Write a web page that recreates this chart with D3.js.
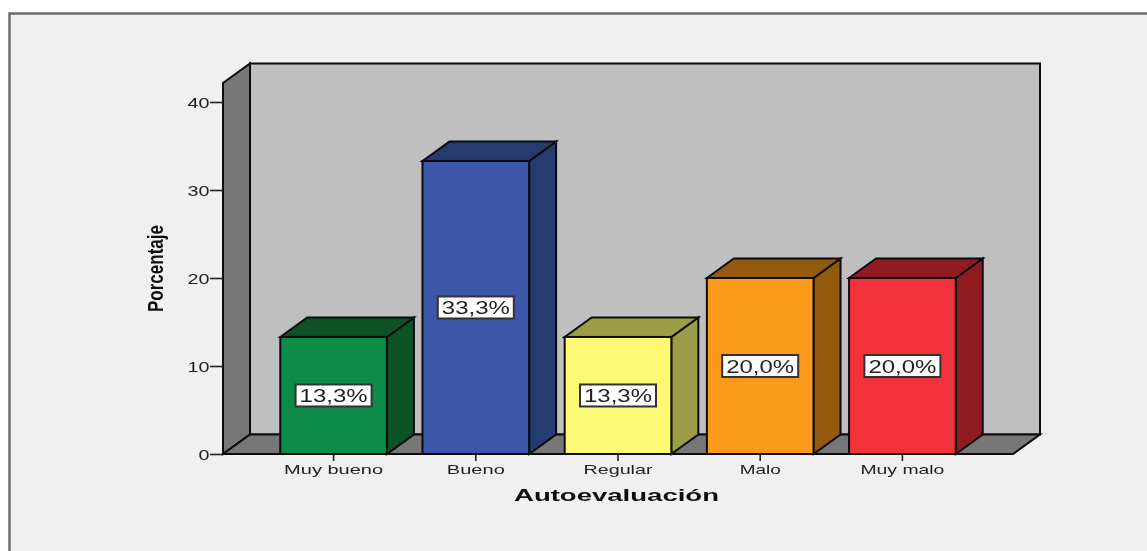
<!DOCTYPE html>
<html><head><meta charset="utf-8">
<script src="https://cdn.jsdelivr.net/npm/d3@7/dist/d3.min.js"></script>
<style>html,body{margin:0;padding:0;background:#fff}svg{display:block}text{font-family:"Liberation Sans",Arial,sans-serif}</style>
</head><body><svg id="c" width="1147" height="551"></svg>
<script>
const categories = ["Muy bueno","Bueno","Regular","Malo","Muy malo"];
const values = [13.3,33.3,13.3,20.0,20.0];
const valueLabels = ["13,3%","33,3%","13,3%","20,0%","20,0%"];
const yTicks = [0,10,20,30,40];
const frontColors = ["#108c48","#3e57a8","#fdf975","#fc9a1c","#f2333b"];
const topColors = ["#075227","#263a70","#9d9c46","#935a10","#901e22"];
const sideColors = ["#075227","#263a70","#9d9c46","#935a10","#901e22"];

const W=1147,H=551, dx=27, dy=-19.5;
const svg=d3.select("#c");
const defs=svg.append("defs");
defs.append("filter").attr("id","soft").attr("filterUnits","userSpaceOnUse")
  .attr("x",0).attr("y",0).attr("width",W).attr("height",H)
  .append("feGaussianBlur").attr("stdDeviation",0.55);
const root=svg.append("g").attr("filter","url(#soft)");

const y=d3.scaleLinear().domain([0,40]).range([454,102]);
const x=d3.scaleBand().domain(categories).range([262.5,973.5]).paddingInner(0.25).paddingOuter(0.125);
const xL=223,xR=1013,yB=y(0),yT=83;
const line=d3.line();
const stroke="#0a0a0a";
const sw=2;

// outer frame
root.append("rect").attr("x",9.5).attr("y",13.5).attr("width",W+20).attr("height",H+20)
  .attr("fill","#f0f0f0").attr("stroke","#6e6e6e").attr("stroke-width",2.5);

// back wall, side wall, floor
root.append("path").attr("d",line([[xL+dx,yT+dy],[xR+dx,yT+dy],[xR+dx,yB+dy],[xL+dx,yB+dy]])+"Z")
  .attr("fill","#bfbfbf").attr("stroke",stroke).attr("stroke-width",sw);
root.append("path").attr("d",line([[xL,yT],[xL+dx,yT+dy],[xL+dx,yB+dy],[xL,yB]])+"Z")
  .attr("fill","#777").attr("stroke",stroke).attr("stroke-width",sw);
root.append("path").attr("d",line([[xL,yB],[xL+dx,yB+dy],[xR+dx,yB+dy],[xR,yB]])+"Z")
  .attr("fill","#777").attr("stroke",stroke).attr("stroke-width",sw);

// y axis
const yAxis=root.append("g").attr("transform",`translate(${xL},0)`)
  .call(d3.axisLeft(y).tickValues(yTicks).tickSize(13).tickPadding(0).tickFormat(d3.format("d")));
yAxis.select(".domain").remove();
yAxis.selectAll("line").attr("stroke","#222").attr("stroke-width",1.6);
yAxis.selectAll("text").attr("fill","#222").attr("font-size",14).attr("x",-13.5).attr("dy","0.36em")
  .attr("textLength",d=>d===0?11:22).attr("lengthAdjust","spacingAndGlyphs");

// x axis
const xAxis=root.append("g").attr("transform",`translate(0,${yB})`)
  .call(d3.axisBottom(x).tickSize(7).tickPadding(2));
xAxis.select(".domain").remove();
xAxis.selectAll("line").attr("stroke","#222").attr("stroke-width",1.6);
const labelW={"Muy bueno":99,"Bueno":58,"Regular":69,"Malo":41,"Muy malo":84};
xAxis.selectAll("text").attr("fill","#222").attr("font-size",13.5).attr("y",10).attr("dy","0.71em")
  .attr("textLength",d=>labelW[d]).attr("lengthAdjust","spacingAndGlyphs");

// bars
const bars=root.selectAll("g.bar").data(categories.map((c,i)=>({c,i,v:values[i],l:valueLabels[i]}))).join("g").attr("class","bar");
bars.append("path").attr("fill",d=>sideColors[d.i]).attr("stroke",stroke).attr("stroke-width",sw)
  .attr("d",d=>{const r=x(d.c)+x.bandwidth(),t=y(d.v);return line([[r,t],[r+dx,t+dy],[r+dx,yB+dy],[r,yB]])+"Z";});
bars.append("path").attr("fill",d=>topColors[d.i]).attr("stroke",stroke).attr("stroke-width",sw)
  .attr("d",d=>{const l=x(d.c),r=l+x.bandwidth(),t=y(d.v);return line([[l,t],[l+dx,t+dy],[r+dx,t+dy],[r,t]])+"Z";});
bars.append("rect").attr("x",d=>x(d.c)).attr("y",d=>y(d.v)).attr("width",x.bandwidth()).attr("height",d=>yB-y(d.v))
  .attr("fill",d=>frontColors[d.i]).attr("stroke",stroke).attr("stroke-width",sw);
// value labels
bars.append("rect").attr("x",d=>x(d.c)+x.bandwidth()/2-38).attr("y",d=>y(d.v/2)-11)
  .attr("width",76).attr("height",22).attr("fill","#fff").attr("stroke","#333").attr("stroke-width",2);
bars.append("text").attr("x",d=>x(d.c)+x.bandwidth()/2).attr("y",d=>y(d.v/2)).attr("dy","0.37em")
  .attr("text-anchor","middle").attr("fill","#222").attr("font-size",18)
  .attr("textLength",68).attr("lengthAdjust","spacingAndGlyphs").text(d=>d.l);

// axis titles
root.append("text").attr("x",616.5).attr("y",501).attr("text-anchor","middle").attr("font-size",17).attr("font-weight","bold")
  .attr("fill","#111").attr("textLength",205).attr("lengthAdjust","spacingAndGlyphs").text("Autoevaluación");
root.append("text").attr("transform","translate(163,268.5) rotate(-90)").attr("text-anchor","middle").attr("font-size",22).attr("font-weight","bold")
  .attr("fill","#111").attr("textLength",87).attr("lengthAdjust","spacingAndGlyphs").text("Porcentaje");
</script></body></html>
